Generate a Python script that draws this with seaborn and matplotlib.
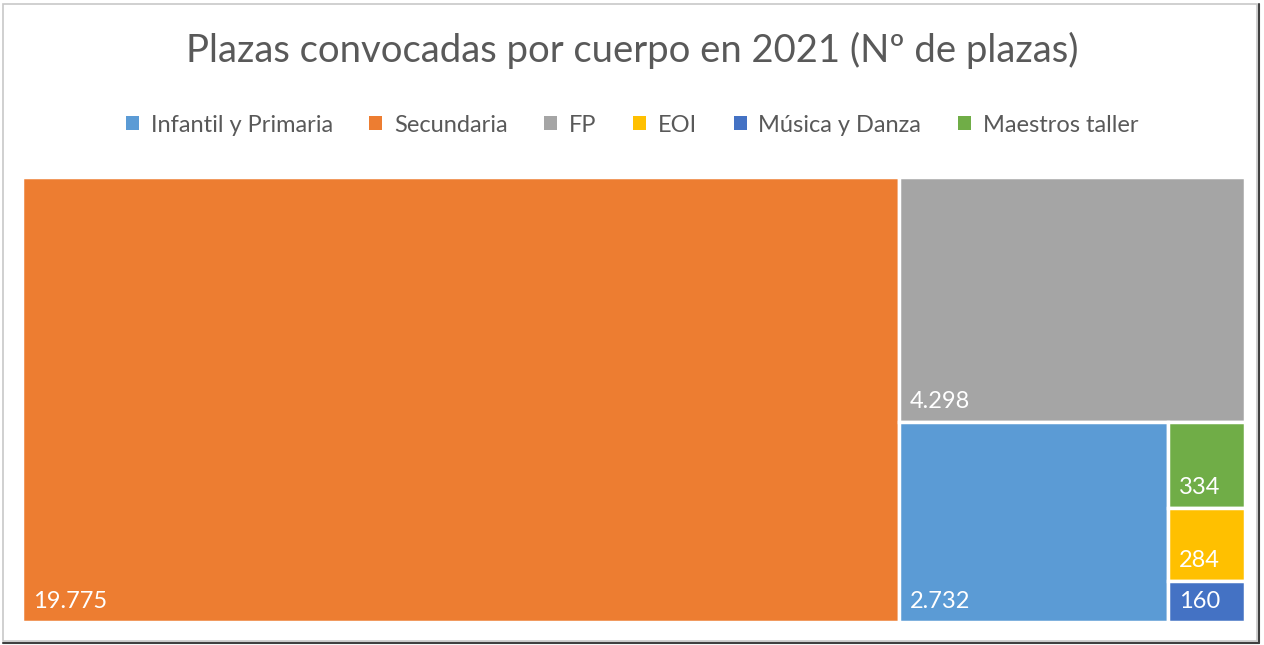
import matplotlib
matplotlib.use("Agg")
import matplotlib.pyplot as plt
from matplotlib.patches import Rectangle, Patch
from matplotlib.lines import Line2D
import seaborn as sns

# data
categorias = ["Infantil y Primaria", "Secundaria", "FP", "EOI", "Música y Danza", "Maestros taller"]
plazas = [2732, 19775, 4298, 284, 160, 334]
colores = ["#5B9BD5", "#ED7D31", "#A5A5A5", "#FFC000", "#4472C4", "#70AD47"]
titulo = "Plazas convocadas por cuerpo en 2021 (Nº de plazas)"

sns.set_theme(style="white")
plt.rcParams["font.family"] = ["Lato", "DejaVu Sans"]
TXT = "#595959"


def worst(row, side):
    s = sum(row)
    return max(max(side * side * r / (s * s), s * s / (side * side * r)) for r in row)


def layout_row(row, x, y, w, h):
    # lay the row along the shorter side, return rects and remaining space
    s = sum(row)
    rects = []
    if w >= h:
        cw = s / h
        yy = y
        for r in row:
            rh = r / cw
            rects.append((x, yy, cw, rh))
            yy += rh
        return rects, (x + cw, y, w - cw, h)
    else:
        rh = s / w
        xx = x
        for r in row:
            rw = r / rh
            rects.append((xx, y, rw, rh))
            xx += rw
        return rects, (x, y + rh, w, h - rh)


def squarify(vals, x, y, w, h):
    total = sum(vals)
    vals = [v * w * h / total for v in vals]
    out = []
    i = 0
    while i < len(vals):
        side = min(w, h)
        row = [vals[i]]
        i += 1
        while i < len(vals) and worst(row + [vals[i]], side) <= worst(row, side):
            row.append(vals[i])
            i += 1
        rects, (x, y, w, h) = layout_row(row, x, y, w, h)
        out.extend(rects)
    return out


orden = sorted(range(len(plazas)), key=lambda k: -plazas[k])
W, H = 1223.0, 445.0
rects = squarify([plazas[k] for k in orden], 0, 0, W, H)

fig = plt.figure(figsize=(12.64, 6.45), dpi=100)
ax = fig.add_axes([22 / 1264, 1 - 622 / 645, 1223 / 1264, 445 / 645])
ax.set_xlim(0, W)
ax.set_ylim(H, 0)
ax.axis("off")

for k, (rx, ry, rw, rh) in zip(orden, rects):
    ax.add_patch(Rectangle((rx, ry), rw, rh, facecolor=colores[k],
                           edgecolor="white", linewidth=2.5))
    etiqueta = f"{plazas[k]:,}".replace(",", ".")
    ax.text(rx + 11, ry + rh - 10, etiqueta, color="white", fontsize=17,
            ha="left", va="bottom")

fig.text(0.5, 1 - 50 / 645, titulo, ha="center", va="center",
         fontsize=27.5, color=TXT)

handles = [Patch(facecolor=c, edgecolor="none") for c in colores]
fig.legend(handles, categorias, loc="center", bbox_to_anchor=(0.5, 1 - 125 / 645),
           ncol=6, frameon=False, fontsize=17, labelcolor=TXT,
           handlelength=0.55, handleheight=0.55, handletextpad=0.5,
           columnspacing=1.55)

# outer frame of the chart area
fig.add_artist(Rectangle((3 / 1264, 4 / 645), 1254 / 1264, 637 / 645,
                         transform=fig.transFigure, fill=False,
                         edgecolor="#C8C8C8", linewidth=1.2))
fig.add_artist(Line2D([3 / 1264, 1259 / 1264], [2 / 645, 2 / 645],
                      transform=fig.transFigure, color="#404040", linewidth=1.5))
fig.add_artist(Line2D([1259 / 1264, 1259 / 1264], [2 / 645, 641 / 645],
                      transform=fig.transFigure, color="#404040", linewidth=1.5))

fig.savefig("out.png", dpi=100)
